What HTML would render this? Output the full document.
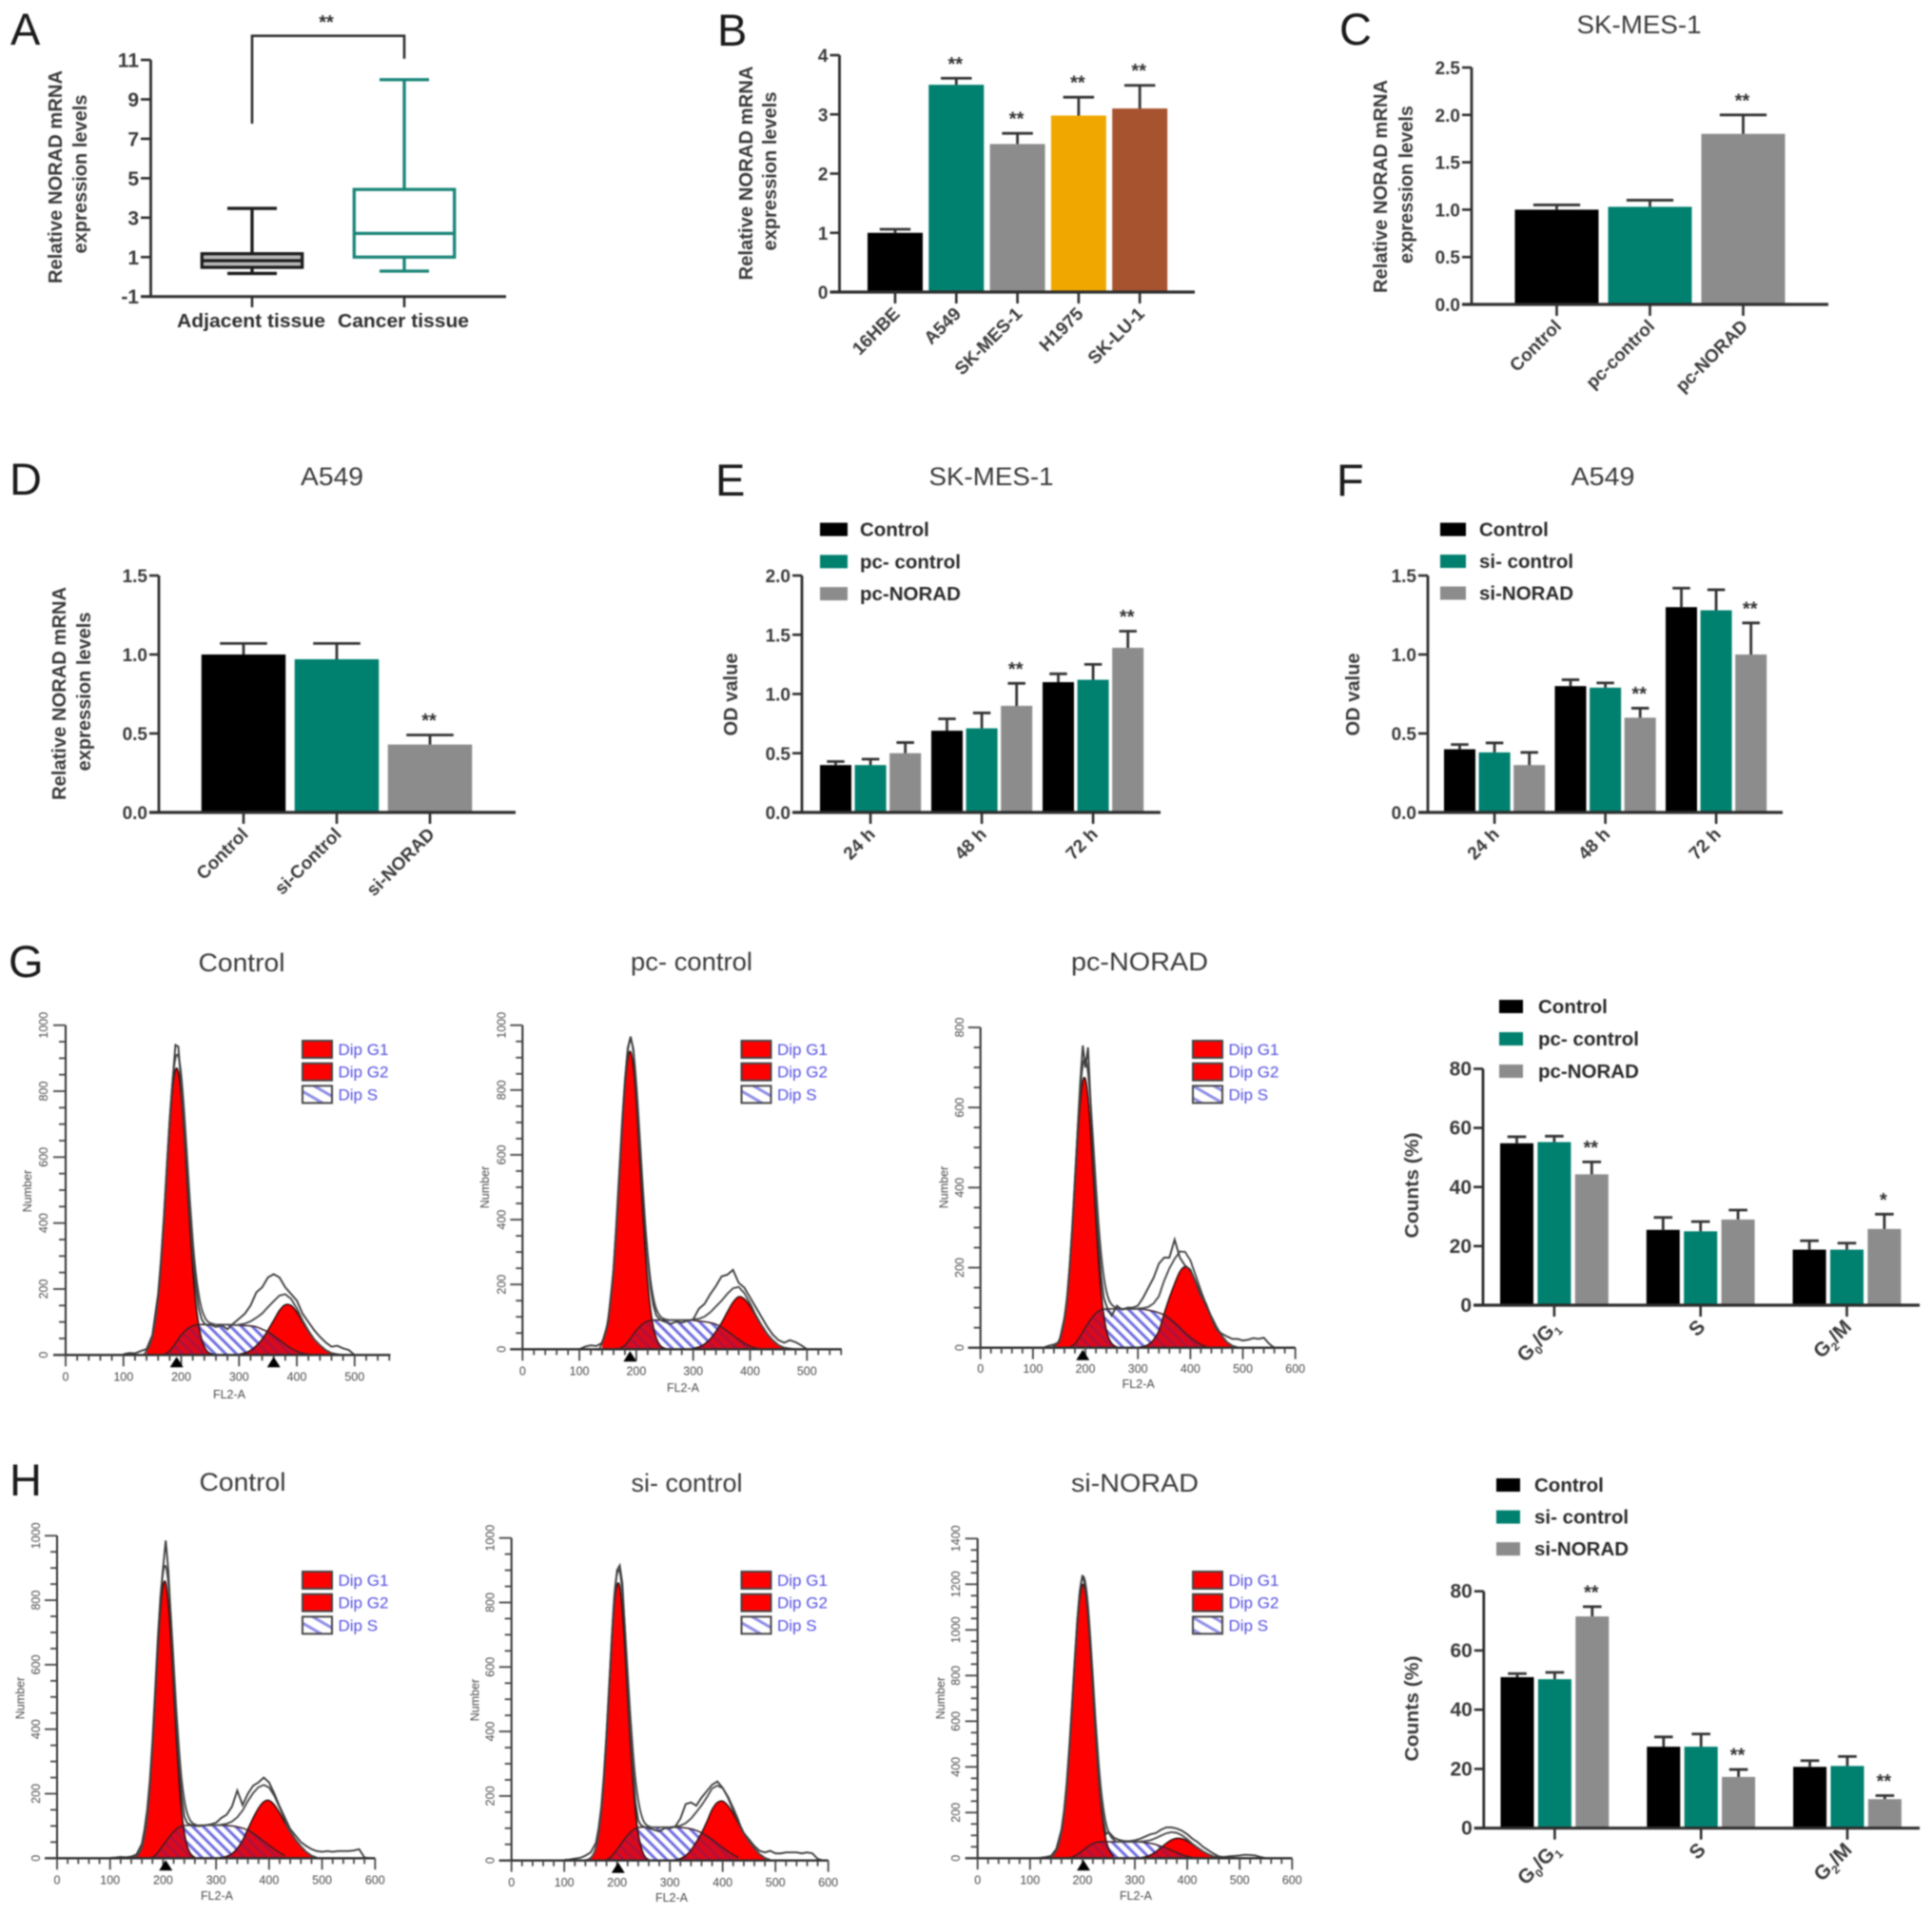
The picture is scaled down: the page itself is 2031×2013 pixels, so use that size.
<!DOCTYPE html>
<html lang="en">
<head>
<meta charset="utf-8">
<title>NORAD expression and cell cycle figure</title>
<style>
html,body{margin:0;padding:0;background:#fff;}
svg{display:block;filter:blur(0.8px);font-family:"Liberation Sans",sans-serif;}
.letter{font-size:47px;fill:#1a1a1a;}
.title{font-size:27px;fill:#3a3a3a;text-anchor:middle;}
.ytitle{font-size:20px;font-weight:bold;fill:#3a3a3a;text-anchor:middle;}
</style>
</head>
<body>
<svg id="figure" xmlns="http://www.w3.org/2000/svg" width="2031" height="2013" viewBox="0 0 2031 2013">
<defs>
<pattern id="sHatch" width="8" height="8" patternUnits="userSpaceOnUse" patternTransform="rotate(-45)"><rect width="8" height="8" fill="#fff"/><rect width="3" height="8" fill="#716fe2"/></pattern>
<pattern id="legendHatch" width="11" height="11" patternUnits="userSpaceOnUse" patternTransform="rotate(-60)"><rect width="11" height="11" fill="#fff"/><rect width="3" height="11" fill="#8f8de6"/></pattern>
<pattern id="redHatch" width="8" height="8" patternUnits="userSpaceOnUse" patternTransform="rotate(-45)"><rect width="8" height="8" fill="#da0a1c"/><rect width="2.5" height="8" fill="#ae1040"/></pattern>
</defs>
<text class="letter" x="11" y="47">A</text>
<text class="letter" x="754" y="48">B</text>
<text class="letter" x="1408" y="47">C</text>
<text class="letter" x="10" y="520">D</text>
<text class="letter" x="752" y="521">E</text>
<text class="letter" x="1405" y="521">F</text>
<text class="letter" x="9" y="1027">G</text>
<text class="letter" x="10" y="1572">H</text>

<text class="title" x="1723" y="35" textLength="131" lengthAdjust="spacingAndGlyphs">SK-MES-1</text>
<text class="title" x="349" y="510" textLength="66" lengthAdjust="spacingAndGlyphs">A549</text>
<text class="title" x="1042" y="510" textLength="131" lengthAdjust="spacingAndGlyphs">SK-MES-1</text>
<text class="title" x="1685" y="510" textLength="67" lengthAdjust="spacingAndGlyphs">A549</text>
<text class="title" x="254" y="1021" textLength="91" lengthAdjust="spacingAndGlyphs">Control</text>
<text class="title" x="727" y="1020" textLength="128" lengthAdjust="spacingAndGlyphs">pc- control</text>
<text class="title" x="1198" y="1020" textLength="144" lengthAdjust="spacingAndGlyphs">pc-NORAD</text>
<text class="title" x="255" y="1567" textLength="91" lengthAdjust="spacingAndGlyphs">Control</text>
<text class="title" x="722" y="1568" textLength="117" lengthAdjust="spacingAndGlyphs">si- control</text>
<text class="title" x="1193" y="1568" textLength="134" lengthAdjust="spacingAndGlyphs">si-NORAD</text>

<g>
<text class="ytitle" transform="translate(65,186) rotate(-90)" textLength="224" lengthAdjust="spacingAndGlyphs">Relative NORAD mRNA</text>
<text class="ytitle" transform="translate(91,183) rotate(-90)" textLength="167" lengthAdjust="spacingAndGlyphs">expression levels</text>
<text class="ytitle" transform="translate(791,182) rotate(-90)" textLength="225" lengthAdjust="spacingAndGlyphs">Relative NORAD mRNA</text>
<text class="ytitle" transform="translate(816,180) rotate(-90)" textLength="167" lengthAdjust="spacingAndGlyphs">expression levels</text>
<text class="ytitle" transform="translate(1458,196) rotate(-90)" textLength="224" lengthAdjust="spacingAndGlyphs">Relative NORAD mRNA</text>
<text class="ytitle" transform="translate(1485,194) rotate(-90)" textLength="166" lengthAdjust="spacingAndGlyphs">expression levels</text>
<text class="ytitle" transform="translate(69,729) rotate(-90)" textLength="224" lengthAdjust="spacingAndGlyphs">Relative NORAD mRNA</text>
<text class="ytitle" transform="translate(95,727) rotate(-90)" textLength="167" lengthAdjust="spacingAndGlyphs">expression levels</text>
<text class="ytitle" transform="translate(775,730) rotate(-90)" textLength="87" lengthAdjust="spacingAndGlyphs">OD value</text>
<text class="ytitle" transform="translate(1429,730) rotate(-90)" textLength="87" lengthAdjust="spacingAndGlyphs">OD value</text>
<text class="ytitle" transform="translate(1491,1246) rotate(-90)" textLength="111" lengthAdjust="spacingAndGlyphs">Counts (%)</text>
<text class="ytitle" transform="translate(1491,1796) rotate(-90)" textLength="111" lengthAdjust="spacingAndGlyphs">Counts (%)</text>
</g>
</svg>
<script>
/* ---------- Panel A: box plot data ---------- */
const boxCategories = ['Adjacent tissue', 'Cancer tissue'];
const boxWhiskerLow = [0.17, 0.29];
const boxQ1 = [0.48, 1.0];
const boxMedian = [0.82, 2.2];
const boxQ3 = [1.17, 4.43];
const boxWhiskerHigh = [3.47, 10.0];
const boxTicks = [-1, 1, 3, 5, 7, 9, 11];

/* ---------- Bar chart data ---------- */
const bCategories = ['16HBE', 'A549', 'SK-MES-1', 'H1975', 'SK-LU-1'];
const bValues = [1.0, 3.5, 2.5, 2.98, 3.1];
const bErrorTops = [1.06, 3.61, 2.68, 3.29, 3.49];
const bStars = ['', '**', '**', '**', '**'];
const bTicks = [0, 1, 2, 3, 4];

const cCategories = ['Control', 'pc-control', 'pc-NORAD'];
const cValues = [1.0, 1.03, 1.8];
const cErrorTops = [1.05, 1.1, 2.0];
const cStars = ['', '', '**'];
const cTicks = [0.0, 0.5, 1.0, 1.5, 2.0, 2.5];

const dCategories = ['Control', 'si-Control', 'si-NORAD'];
const dValues = [1.0, 0.97, 0.43];
const dErrorTops = [1.07, 1.07, 0.49];
const dStars = ['', '', '**'];
const dTicks = [0.0, 0.5, 1.0, 1.5];

const timeCategories = ['24 h', '48 h', '72 h'];
const eLegend = ['Control', 'pc- control', 'pc-NORAD'];
const eControl = [0.4, 0.69, 1.1];
const ePcControl = [0.4, 0.71, 1.12];
const ePcNorad = [0.5, 0.9, 1.39];
const eControlErr = [0.43, 0.79, 1.17];
const ePcControlErr = [0.45, 0.84, 1.25];
const ePcNoradErr = [0.59, 1.09, 1.53];
const eNoradStars = ['', '**', '**'];
const eTicks = [0.0, 0.5, 1.0, 1.5, 2.0];

const fLegend = ['Control', 'si- control', 'si-NORAD'];
const fControl = [0.4, 0.8, 1.3];
const fSiControl = [0.38, 0.79, 1.28];
const fSiNorad = [0.3, 0.6, 1.0];
const fControlErr = [0.43, 0.84, 1.42];
const fSiControlErr = [0.44, 0.82, 1.41];
const fSiNoradErr = [0.38, 0.66, 1.2];
const fNoradStars = ['', '**', '**'];
const fTicks = [0.0, 0.5, 1.0, 1.5];

const phaseCategories = ['G0/G1', 'S', 'G2/M'];
const countTicks = [0, 20, 40, 60, 80];
const gLegend = ['Control', 'pc- control', 'pc-NORAD'];
const gControl = [54.8, 25.5, 18.8];
const gPcControl = [55.2, 25.0, 18.8];
const gPcNorad = [44.3, 29.0, 25.8];
const gControlErr = [57.0, 29.7, 21.8];
const gPcControlErr = [57.2, 28.3, 21.0];
const gPcNoradErr = [48.5, 32.2, 30.8];
const gNoradStars = ['**', '', '*'];

const hLegend = ['Control', 'si- control', 'si-NORAD'];
const hControl = [51.0, 27.5, 20.7];
const hSiControl = [50.3, 27.5, 21.0];
const hSiNorad = [71.5, 17.3, 9.8];
const hControlErr = [52.2, 30.8, 22.8];
const hSiControlErr = [52.6, 31.8, 24.2];
const hSiNoradErr = [74.8, 19.8, 11.0];
const hNoradStars = ['**', '**', '**'];

/* ---------- Flow cytometry histogram data (channel bins + counts) ---------- */
const g1Bins = [140,145,150,155,160,165,170,175,180,185,190,195,200,205,210,215,220,225,230,235,240,245,250,255,260];
const sBins = [170,180,190,200,210,220,230,240,250,260,270,280,290,300,310,320,330,340,350,360,370,380,390,400,410,420,430];
const g2Bins = [300,310,320,330,340,350,360,370,380,390,400,410,420,430,440,450,460,470,480,490];
const rawBins = [100,110,120,130,140,150,160,165,170,175,180,185,190,195,200,205,210,215,220,225,230,235,240,245,250,260,270,280,290,300,310,320,330,340,350,360,370,380,390,400,410,420,430,440,450,460,470,480,490,500,510,520,530,540,550,560,570,580,590];
const xTickLabels = [0, 100, 200, 300, 400, 500, 600];

const gControlG1 = [13,29,57,105,179,282,412,557,697,806,865,858,788,671,528,385,259,162,94,50,25,11,5,2,0];
const gControlS = [0,12,35,60,78,88,92,92,92,92,92,92,91,90,89,88,85,78,70,58,45,32,20,11,5,2,0];
const gControlG2 = [2,6,14,28,48,75,105,135,152,150,130,100,72,48,30,15,6,2,0,0];
const gControlRaw = [2,6,5,12,18,60,185,290,420,570,715,830,940,935,815,690,560,420,300,210,145,110,95,90,92,85,90,78,95,110,125,150,190,205,235,245,235,205,185,165,125,100,75,55,38,25,28,20,15,0];
const gControlMarkers = [192, 360];

const gPcControlG1 = [23,46,88,155,251,378,527,680,812,897,918,870,763,620,466,324,209,124,69,35,17,7,3,1,0];
const gPcControlS = [1,12,34,58,76,87,90,90,90,90,90,90,90,89,87,85,82,77,68,56,43,30,18,9,3,1,0];
const gPcControlG2 = [3,7,16,32,55,82,115,145,162,155,133,103,74,48,28,13,5,2,0,0];
const gPcControlRaw = [0,8,12,10,20,80,245,390,545,700,830,930,965,925,800,660,520,380,280,190,135,105,95,88,85,78,85,82,88,92,125,140,170,195,225,230,245,205,190,160,130,100,70,45,28,20,28,22,12,0];
const gPcControlMarkers = [189];

const gPcNoradG1 = [4,9,19,39,73,126,201,298,410,520,611,666,671,626,540,432,320,219,139,82,44,22,11,5,2];
const gPcNoradS = [1,10,28,50,70,86,95,97,97,97,97,97,97,97,96,94,91,87,82,73,62,50,37,26,16,8,3];
const gPcNoradG2 = [1,3,8,20,42,85,125,160,190,202,192,165,135,105,78,52,30,14,5,1];
const gPcNoradRaw = [0,0,0,5,8,14,75,125,205,300,420,540,660,755,700,750,610,480,360,260,180,125,105,90,80,105,95,100,100,105,125,150,175,210,225,225,270,225,205,195,165,130,110,75,45,35,28,22,22,18,20,24,22,25,10,0];
const gPcNoradMarkers = [195];

const hControlG1 = [1,3,7,16,35,71,131,221,344,491,642,770,846,854,790,671,522,372,244,146,81,41,19,8,3];
const hControlS = [0,3,18,40,62,82,96,101,102,102,102,102,102,102,102,101,100,97,93,87,77,65,52,40,28,17,8];
const hControlG2 = [0,2,6,14,30,55,90,125,155,175,179,165,140,110,82,58,37,20,8,2];
const hControlRaw = [1,2,4,3,5,12,45,90,150,240,365,520,680,810,900,985,890,730,560,420,290,195,130,110,105,100,100,102,105,110,125,135,160,210,165,200,225,235,250,235,200,160,125,90,70,50,38,28,22,20,22,20,22,22,22,24,28,2,0];
const hControlMarkers = [205];

const hSiControlG1 = [1,3,8,19,41,85,155,255,385,530,680,800,855,850,775,650,505,365,245,150,85,45,20,8,3];
const hSiControlS = [0,2,14,34,57,78,94,102,103,103,103,103,103,103,103,102,101,98,93,86,76,65,52,40,28,18,9];
const hSiControlG2 = [0,2,6,15,32,57,85,120,158,180,184,170,145,115,85,60,38,20,8,2];
const hSiControlRaw = [2,3,6,8,15,25,55,100,165,265,395,545,690,820,900,915,860,710,550,400,280,180,125,110,105,100,95,90,100,100,105,130,175,180,170,195,215,235,245,225,195,155,120,85,65,45,30,25,30,22,22,25,25,25,22,25,22,5,0];
const hSiControlMarkers = [202];

const hSiNoradG1 = [7,16,33,64,117,199,317,471,652,841,1014,1141,1198,1173,1073,914,728,540,374,240,146,80,42,20,9];
const hSiNoradS = [0,5,16,32,50,64,71,72,72,72,72,72,72,72,71,69,65,60,52,44,34,24,15,8,3,1,0];
const hSiNoradG2 = [0,2,6,14,28,47,65,80,87,85,75,60,45,30,18,8,3,1,0,0];
const hSiNoradRaw = [0,0,2,5,10,40,125,210,330,490,670,860,1040,1170,1240,1195,1100,940,750,560,390,255,165,105,115,90,80,75,75,78,85,95,105,110,125,135,135,130,120,105,85,70,50,35,20,8,5,8,10,12,15,14,12,5,0];
const hSiNoradMarkers = [202];

/* ---------- helpers ---------- */
const svg = document.getElementById('figure');
const NS = 'http://www.w3.org/2000/svg';
const INK = '#2e2e2e';
const BLACK = '#000000';
const TEAL = '#00806f';
const GRAY = '#8c8c8c';
const ORANGE = '#f0a800';
const BROWN = '#a8532f';

function mk(tag, attrs, parent) {
  const e = document.createElementNS(NS, tag);
  for (const k in attrs) e.setAttribute(k, attrs[k]);
  (parent || svg).appendChild(e);
  return e;
}
function linear(d0, d1, r0, r1) {
  return function (v) { return r0 + (v - d0) * (r1 - r0) / (d1 - d0); };
}
function line(parent, x1, y1, x2, y2, stroke, width) {
  return mk('line', { x1: x1, y1: y1, x2: x2, y2: y2, stroke: stroke, 'stroke-width': width }, parent);
}
function interp(bins, vals, x) {
  if (x < bins[0] || x > bins[bins.length - 1]) return 0;
  for (let i = 0; i < bins.length - 1; i++) {
    if (x <= bins[i + 1]) {
      const a = vals[i] || 0, b = vals[i + 1] || 0;
      return a + (b - a) * (x - bins[i]) / (bins[i + 1] - bins[i]);
    }
  }
  return vals[bins.length - 1] || 0;
}
function smoothPath(pts) {
  let d = 'M' + pts[0][0].toFixed(2) + ',' + pts[0][1].toFixed(2);
  for (let i = 0; i < pts.length - 1; i++) {
    const p0 = pts[Math.max(i - 1, 0)], p1 = pts[i], p2 = pts[i + 1], p3 = pts[Math.min(i + 2, pts.length - 1)];
    const c1x = p1[0] + (p2[0] - p0[0]) / 6, c1y = p1[1] + (p2[1] - p0[1]) / 6;
    const c2x = p2[0] - (p3[0] - p1[0]) / 6, c2y = p2[1] - (p3[1] - p1[1]) / 6;
    d += 'C' + c1x.toFixed(2) + ',' + c1y.toFixed(2) + ' ' + c2x.toFixed(2) + ',' + c2y.toFixed(2) + ' ' + p2[0].toFixed(2) + ',' + p2[1].toFixed(2);
  }
  return d;
}
function addRotatedLabel(parent, label, x, y, size) {
  const t = mk('text', { transform: 'translate(' + x + ',' + y + ') rotate(-45)', 'text-anchor': 'end', 'font-size': size, 'font-weight': 'bold', fill: '#3a3a3a' }, parent);
  const parts = label.match(/^G(\d)\/(G?)(\d?)(M?)$/);
  if (parts) {
    const a = mk('tspan', {}, t); a.textContent = 'G';
    const b = mk('tspan', { dy: 5, 'font-size': 12 }, t); b.textContent = parts[1];
    const c = mk('tspan', { dy: -5 }, t); c.textContent = '/' + parts[2] + parts[4];
    if (parts[3]) { const s = mk('tspan', { dy: 5, 'font-size': 12 }, t); s.textContent = parts[3]; }
  } else {
    t.textContent = label;
  }
  return t;
}

/* ---------- bar charts ---------- */
function barChart(o) {
  const g = mk('g', {});
  
  
  const y = linear(0, o.yMax, o.y0, o.yTop);
  const nS = o.series.length;
  o.categories.forEach(function (cat, c) {
    o.series.forEach(function (vals, s) {
      const cx = o.first + c * o.groupStep + s * o.barStep;
      const col = o.perBarColors ? o.perBarColors[c] : o.colors[s];
      const bar = mk('rect', { x: cx - o.barW / 2, y: y(vals[c]), width: o.barW, height: o.y0 - y(vals[c]), fill: col }, g);
      
      
      const top = y(o.errors[s][c]);
      const capHalf = o.barW * 0.28;
      const err = mk('path', { d: 'M' + cx + ',' + y(vals[c]) + 'V' + top + 'M' + (cx - capHalf) + ',' + top + 'H' + (cx + capHalf), stroke: '#333', 'stroke-width': 2.8, fill: 'none' }, g);
      
      
      const star = o.stars[s] ? o.stars[s][c] : '';
      if (star) {
        const st = mk('text', { x: cx - 1, y: top - 8.5, 'text-anchor': 'middle', 'font-size': 20, 'font-weight': 'bold', fill: '#333' }, g);
        st.textContent = star;
        
        
      }
    });
    const tx = o.first + c * o.groupStep + (nS - 1) * o.barStep / 2;
    const tick = line(g, tx, o.y0, tx, o.y0 + 12, INK, 2.6);
    
    
    const lab = addRotatedLabel(g, cat, tx + 6, o.y0 + 24, o.labelSize || 19);
    
    
  });
  const yAxis = line(g, o.x0, o.yTop, o.x0, o.y0, INK, 2.8);
  
  
  const xAxis = line(g, o.x0 - 10, o.y0, o.xEnd, o.y0, INK, 3.2);
  
  
  o.ticks.forEach(function (t) {
    line(g, o.x0 - 10, y(t), o.x0, y(t), INK, 2.6);
    const l = mk('text', { x: o.x0 - 12, y: y(t) + 7, 'text-anchor': 'end', 'font-size': o.tickSize || 19, 'font-weight': 'bold', fill: '#3a3a3a' }, g);
    l.textContent = o.tickDigits ? t.toFixed(o.tickDigits) : String(t);
    
    
  });
  if (o.legend) {
    o.legend.forEach(function (name, i) {
      const ly = o.legendY + i * o.legendStep;
      const sw = mk('rect', { x: o.legendX, y: ly - 7, width: o.legendW, height: 14, fill: o.colors[i] }, g);
      
      
      const lt = mk('text', { x: o.legendTextX, y: ly + 7, 'font-size': 20.5, 'font-weight': 'bold', fill: '#2a2a2a' }, g);
      lt.textContent = name;
      
      
    });
  }
}

barChart({ name: 'panel-b-cell-line-bars', categories: bCategories, series: [bValues], errors: [bErrorTops], stars: [bStars], perBarColors: [BLACK, TEAL, GRAY, ORANGE, BROWN], yMax: 4, ticks: bTicks, x0: 882.5, y0: 307, yTop: 58, xEnd: 1256, first: 941, groupStep: 64.3, barStep: 0, barW: 58 });
barChart({ name: 'panel-c-overexpression-bars', categories: cCategories, series: [cValues], errors: [cErrorTops], stars: [cStars], perBarColors: [BLACK, TEAL, GRAY], yMax: 2.5, ticks: cTicks, tickDigits: 1, x0: 1547, y0: 320, yTop: 71, xEnd: 1922, first: 1636.5, groupStep: 98, barStep: 0, barW: 88 });
barChart({ name: 'panel-d-knockdown-bars', categories: dCategories, series: [dValues], errors: [dErrorTops], stars: [dStars], perBarColors: [BLACK, TEAL, GRAY], yMax: 1.5, ticks: dTicks, tickDigits: 1, x0: 167, y0: 854, yTop: 605, xEnd: 542, first: 256, groupStep: 98, barStep: 0, barW: 88.5 });
barChart({ name: 'panel-e-od-bars', categories: timeCategories, series: [eControl, ePcControl, ePcNorad], errors: [eControlErr, ePcControlErr, ePcNoradErr], stars: [null, null, eNoradStars], colors: [BLACK, TEAL, GRAY], yMax: 2, ticks: eTicks, tickDigits: 1, x0: 843, y0: 854, yTop: 605, xEnd: 1220, first: 878.5, groupStep: 117, barStep: 36.6, barW: 33, legend: eLegend, legendX: 862, legendW: 29, legendTextX: 904, legendY: 556.5, legendStep: 33.8 });
barChart({ name: 'panel-f-od-bars', categories: timeCategories, series: [fControl, fSiControl, fSiNorad], errors: [fControlErr, fSiControlErr, fSiNoradErr], stars: [null, null, fNoradStars], colors: [BLACK, TEAL, GRAY], yMax: 1.5, ticks: fTicks, tickDigits: 1, x0: 1501, y0: 854, yTop: 605, xEnd: 1874, first: 1534.5, groupStep: 116.5, barStep: 36.6, barW: 33, legend: fLegend, legendX: 1514, legendW: 27, legendTextX: 1555, legendY: 556.5, legendStep: 33.5 });
barChart({ name: 'panel-g-phase-bars', categories: phaseCategories, series: [gControl, gPcControl, gPcNorad], errors: [gControlErr, gPcControlErr, gPcNoradErr], stars: [null, null, gNoradStars], colors: [BLACK, TEAL, GRAY], yMax: 80, ticks: countTicks, tickSize: 21, labelSize: 21, x0: 1559, y0: 1372, yTop: 1123.5, xEnd: 2018, first: 1594.5, groupStep: 153.8, barStep: 39.4, barW: 35, legend: gLegend, legendX: 1576, legendW: 25, legendTextX: 1617, legendY: 1058, legendStep: 34 });
barChart({ name: 'panel-h-phase-bars', categories: phaseCategories, series: [hControl, hSiControl, hSiNorad], errors: [hControlErr, hSiControlErr, hSiNoradErr], stars: [null, null, hNoradStars], colors: [BLACK, TEAL, GRAY], yMax: 80, ticks: countTicks, tickSize: 21, labelSize: 21, x0: 1559.8, y0: 1921.7, yTop: 1672.7, xEnd: 2018, first: 1595, groupStep: 153.8, barStep: 39.4, barW: 35, legend: hLegend, legendX: 1573, legendW: 25, legendTextX: 1613, legendY: 1561, legendStep: 33.6 });

/* ---------- Panel A box plot ---------- */
(function () {
  const g = mk('g', {});
  
  
  const y = linear(-1, 11, 311.7, 63);
  const xAt = linear(0, 1, 265, 425);
  boxCategories.forEach(function (cat, i) {
    const cx = xAt(i), col = i === 0 ? '#1c1c1c' : '#1a8478';
    const box = mk('rect', { x: cx - 52.7, y: y(boxQ3[i]), width: 105.4, height: y(boxQ1[i]) - y(boxQ3[i]), fill: i === 0 ? '#b8b8b8' : 'none', stroke: col, 'stroke-width': 3.3 }, g);
    
    
    const med = line(g, cx - 52.7, y(boxMedian[i]), cx + 52.7, y(boxMedian[i]), col, 3.3);
    
    
    const whisk = mk('path', { d: 'M' + cx + ',' + y(boxQ3[i]) + 'V' + y(boxWhiskerHigh[i]) + 'M' + (cx - 26) + ',' + y(boxWhiskerHigh[i]) + 'H' + (cx + 26) + 'M' + cx + ',' + y(boxQ1[i]) + 'V' + y(boxWhiskerLow[i]) + 'M' + (cx - 26) + ',' + y(boxWhiskerLow[i]) + 'H' + (cx + 26), stroke: col, 'stroke-width': 3.3, fill: 'none' }, g);
    
    
    line(g, cx, 311.7, cx, 323, INK, 2.6);
    const lab = mk('text', { x: cx - 1, y: 344, 'text-anchor': 'middle', 'font-size': 20, 'font-weight': 'bold', fill: '#2e2e2e', textLength: i === 0 ? 156 : 138, lengthAdjust: 'spacingAndGlyphs' }, g);
    lab.textContent = cat;
    
    
  });
  const yAxis = line(g, 158.5, 63, 158.5, 311.7, INK, 2.8);
  
  
  const xAxis = line(g, 148, 311.7, 532, 311.7, INK, 3);
  
  
  boxTicks.forEach(function (t) {
    line(g, 148, y(t), 158.5, y(t), INK, 2.6);
    const l = mk('text', { x: 146, y: y(t) + 7.5, 'text-anchor': 'end', 'font-size': 21, 'font-weight': 'bold', fill: '#3a3a3a' }, g);
    l.textContent = String(t);
    
    
  });
  const br = mk('path', { d: 'M265,130V37.7H425V61.7', fill: 'none', stroke: INK, 'stroke-width': 2.6 }, g);
  
  
  const st = mk('text', { x: 343, y: 30, 'text-anchor': 'middle', 'font-size': 20, 'font-weight': 'bold', fill: '#333' }, g);
  st.textContent = '**';
  
  
})();

/* ---------- flow cytometry histograms ---------- */
let histId = 0;
function histogram(o) {
  histId++;
  const g = mk('g', {});
  
  
  const x = linear(0, o.xRef, o.x0, o.xRefPx);
  const y = linear(0, o.yMax, o.y0, o.yTop);
  function area(bins, vals) {
    const pts = bins.map(function (b, i) { return [x(b), y(vals[i])]; });
    return { line: smoothPath(pts), fill: smoothPath(pts) + 'L' + x(bins[bins.length - 1]) + ',' + o.y0 + 'L' + x(bins[0]) + ',' + o.y0 + 'Z' };
  }
  const a1 = area(g1Bins, o.g1), a2 = area(g2Bins, o.g2), aS = area(sBins, o.s);

  const cp = mk('clipPath', { id: 'sClip' + histId }, g);
  mk('path', { d: aS.fill }, cp);

  const sf = mk('path', { d: aS.fill, fill: 'url(#sHatch)' }, g);
  
  
  const f1 = mk('path', { d: a1.fill, fill: '#ff0000' }, g);
  
  
  const f2 = mk('path', { d: a2.fill, fill: '#ff0000' }, g);
  
  
  mk('path', { d: a1.fill, fill: 'url(#redHatch)', 'clip-path': 'url(#sClip' + histId + ')' }, g);
  mk('path', { d: a2.fill, fill: 'url(#redHatch)', 'clip-path': 'url(#sClip' + histId + ')' }, g);
  mk('path', { d: a1.line, fill: 'none', stroke: '#2a1010', 'stroke-width': 1.5 }, g);
  mk('path', { d: a2.line, fill: 'none', stroke: '#2a1010', 'stroke-width': 1.5 }, g);
  mk('path', { d: aS.line, fill: 'none', stroke: '#3a2028', 'stroke-width': 1.5 }, g);

  const fitPts = [];
  for (let c = 130; c <= 490; c += 5) {
    fitPts.push([x(c), y(interp(g1Bins, o.g1, c) + interp(g2Bins, o.g2, c) + interp(sBins, o.s, c))]);
  }
  const fit = mk('path', { d: smoothPath(fitPts), fill: 'none', stroke: '#4a4a4a', 'stroke-width': 1.9 }, g);
  
  
  const rawPts = o.raw.map(function (v, i) { return x(rawBins[i]).toFixed(2) + ',' + y(v).toFixed(2); }).join(' ');
  const raw = mk('polyline', { points: rawPts, fill: 'none', stroke: '#3e3e3e', 'stroke-width': 1.9 }, g);
  
  

  const yAxis = line(g, o.x0, o.yTop, o.x0, o.y0, INK, 2);
  
  
  const xAxis = line(g, o.x0 - 13, o.y0, x(o.xEndVal), o.y0, INK, 2.3);
  
  
  for (let t = 0; t <= o.yMax; t += 50) {
    const major = t % 200 === 0;
    line(g, o.x0 - (major ? 13 : 7), y(t), o.x0, y(t), '#444', 1.8);
    if (major) {
      const l = mk('text', { transform: 'translate(' + (o.yLabelX + 4) + ',' + y(t) + ') rotate(-90)', 'text-anchor': 'middle', 'font-size': 12.5, fill: '#4a4a4a' }, g);
      l.textContent = String(t);
      
      
    }
  }
  for (let t = 0; t <= o.xEndVal; t += 20) {
    const major = t % 100 === 0;
    line(g, x(t), o.y0, x(t), o.y0 + (major ? 12 : 6), '#444', 1.8);
  }
  xTickLabels.forEach(function (t) {
    if (t > o.xEndVal) return;
    const l = mk('text', { x: x(t), y: o.xLabelY + 4, 'text-anchor': 'middle', 'font-size': 12.5, fill: '#4a4a4a' }, g);
    l.textContent = String(t);
    
    
  });
  const yt = mk('text', { transform: 'translate(' + (o.numberX + 4) + ',' + o.numberY + ') rotate(-90)', 'text-anchor': 'middle', 'font-size': 12.5, fill: '#4a4a4a' }, g);
  yt.textContent = 'Number';
  
  
  const xt = mk('text', { x: o.flX, y: o.flY, 'text-anchor': 'middle', 'font-size': 12.5, fill: '#4a4a4a' }, g);
  xt.textContent = 'FL2-A';
  
  

  o.markers.forEach(function (m) {
    const tri = mk('path', { d: 'M' + (x(m) - 7) + ',' + (o.y0 + 13) + 'L' + x(m) + ',' + (o.y0 + 2) + 'L' + (x(m) + 7) + ',' + (o.y0 + 13) + 'Z', fill: '#000' }, g);
    
    
  });

  ['Dip G1', 'Dip G2', 'Dip S'].forEach(function (name, i) {
    const ly = o.legendY + i * 23.7;
    const sw = mk('rect', { x: o.legendX, y: ly, width: 31, height: 18, fill: i === 2 ? 'url(#legendHatch)' : '#ff0000', stroke: '#444', 'stroke-width': 2 }, g);
    
    
    const lt = mk('text', { x: o.legendX + 37.5, y: ly + 15, 'font-size': 17, fill: '#5550e0' }, g);
    lt.textContent = name;
    
    
  });
}

histogram({ name: 'panel-g-control-histogram', g1: gControlG1, s: gControlS, g2: gControlG2, raw: gControlRaw, markers: gControlMarkers, yMax: 1000, xRef: 500, x0: 69, xRefPx: 372.8, xEndVal: 562, y0: 1424.3, yTop: 1077.7, yLabelX: 46, xLabelY: 1447.7, numberX: 29, numberY: 1252, flX: 241, flY: 1470, legendX: 318, legendY: 1094 });
histogram({ name: 'panel-g-pc-control-histogram', g1: gPcControlG1, s: gPcControlS, g2: gPcControlG2, raw: gPcControlRaw, markers: gPcControlMarkers, yMax: 1000, xRef: 500, x0: 549.3, xRefPx: 848.3, xEndVal: 561, y0: 1418.3, yTop: 1077.7, yLabelX: 527.7, xLabelY: 1441.7, numberX: 510, numberY: 1248, flX: 718, flY: 1463, legendX: 779.5, legendY: 1094 });
histogram({ name: 'panel-g-pc-norad-histogram', g1: gPcNoradG1, s: gPcNoradS, g2: gPcNoradG2, raw: gPcNoradRaw, markers: gPcNoradMarkers, yMax: 800, xRef: 600, x0: 1030.7, xRefPx: 1361.7, xEndVal: 600, y0: 1416.7, yTop: 1080, yLabelX: 1009, xLabelY: 1439, numberX: 992.3, numberY: 1248, flX: 1196.7, flY: 1459, legendX: 1254, legendY: 1094 });
histogram({ name: 'panel-h-control-histogram', g1: hControlG1, s: hControlS, g2: hControlG2, raw: hControlRaw, markers: hControlMarkers, yMax: 1000, xRef: 600, x0: 60, xRefPx: 394.3, xEndVal: 600, y0: 1953.3, yTop: 1614.3, yLabelX: 38, xLabelY: 1976.7, numberX: 21.7, numberY: 1785, flX: 228, flY: 1997, legendX: 318, legendY: 1652 });
histogram({ name: 'panel-h-si-control-histogram', g1: hSiControlG1, s: hSiControlS, g2: hSiControlG2, raw: hSiControlRaw, markers: hSiControlMarkers, yMax: 1000, xRef: 600, x0: 537.7, xRefPx: 870.7, xEndVal: 600, y0: 1955.7, yTop: 1616.7, yLabelX: 515.7, xLabelY: 1979, numberX: 499.3, numberY: 1787, flX: 706, flY: 1999, legendX: 779.5, legendY: 1652 });
histogram({ name: 'panel-h-si-norad-histogram', g1: hSiNoradG1, s: hSiNoradS, g2: hSiNoradG2, raw: hSiNoradRaw, markers: hSiNoradMarkers, yMax: 1400, xRef: 600, x0: 1027.7, xRefPx: 1358.3, xEndVal: 600, y0: 1953.3, yTop: 1617.3, yLabelX: 1005, xLabelY: 1976.7, numberX: 989, numberY: 1785, flX: 1194, flY: 1997, legendX: 1254, legendY: 1652 });
</script>
</body>
</html>
